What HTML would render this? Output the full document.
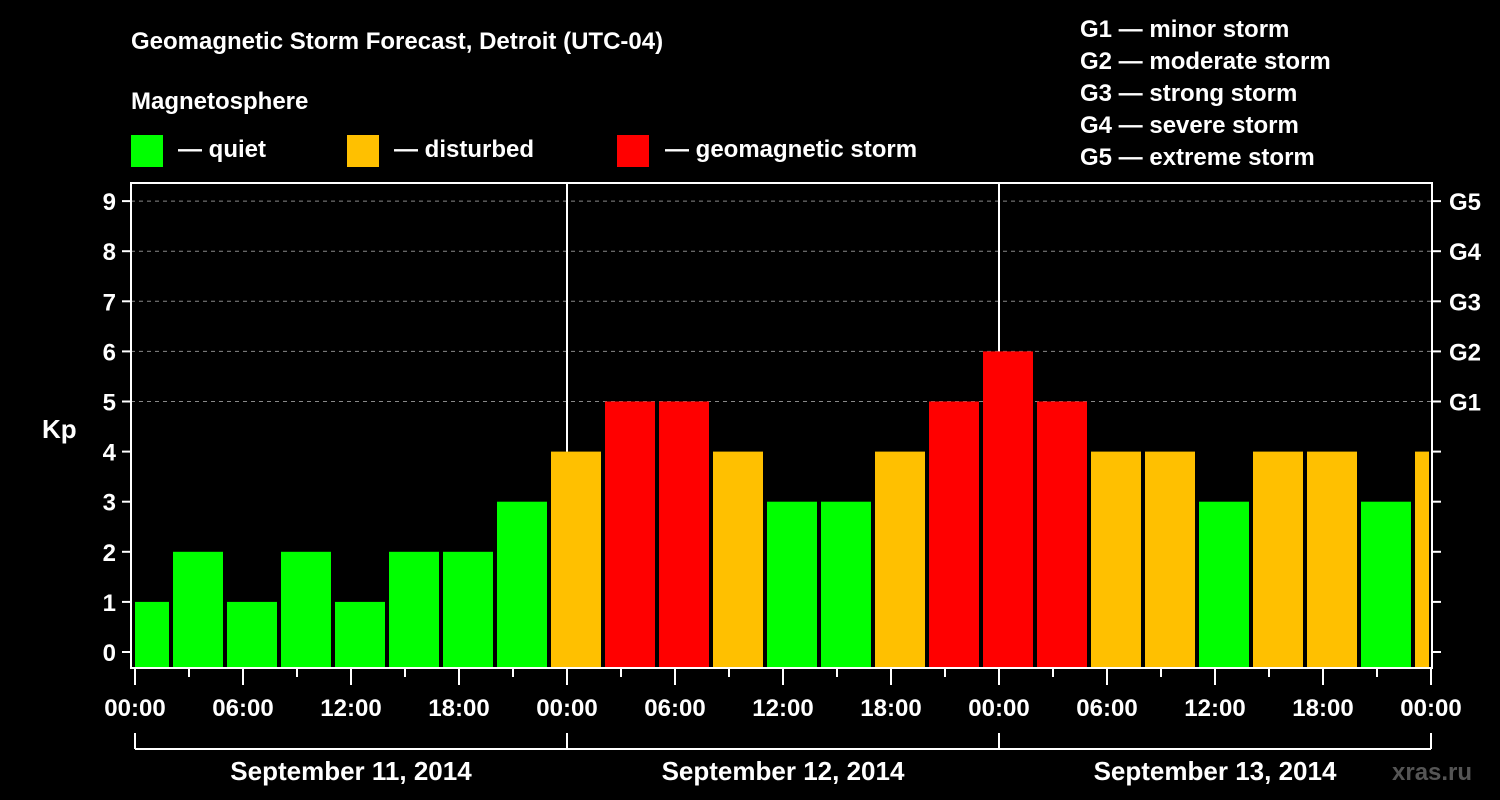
<!DOCTYPE html>
<html><head><meta charset="utf-8"><style>
body{margin:0;background:#000;}
svg{display:block;font-family:"Liberation Sans",Arial,sans-serif;font-weight:bold;}
</style></head><body>
<svg id="chart" width="1500" height="800" viewBox="0 0 1500 800">
<rect width="1500" height="800" fill="#000"/>
<text x="131" y="49" fill="#fff" font-size="24">Geomagnetic Storm Forecast, Detroit (UTC-04)</text>
<text x="131" y="109" fill="#fff" font-size="24">Magnetosphere</text>
<g><rect x="131" y="135" width="32" height="32" fill="#00ff00"/><text x="178" y="157" fill="#fff" font-size="24">— quiet</text></g>
<g><rect x="347" y="135" width="32" height="32" fill="#ffc000"/><text x="394" y="157" fill="#fff" font-size="24">— disturbed</text></g>
<g><rect x="617" y="135" width="32" height="32" fill="#ff0000"/><text x="665" y="157" fill="#fff" font-size="24">— geomagnetic storm</text></g>
<g fill="#fff" font-size="24">
<text x="1080" y="37">G1 — minor storm</text>
<text x="1080" y="69">G2 — moderate storm</text>
<text x="1080" y="101">G3 — strong storm</text>
<text x="1080" y="133">G4 — severe storm</text>
<text x="1080" y="165">G5 — extreme storm</text>
</g>
<text x="42" y="438" fill="#fff" font-size="26">Kp</text>
<text x="1392" y="780" fill="#555" font-size="24">xras.ru</text>
<g id="plot"></g>
</svg>
<script>
const kpValues=[1,2,1,2,1,2,2,3, 4,5,5,4,3,3,4,5, 6,5,4,4,3,4,4,3, 4];
const yTicks=[0,1,2,3,4,5,6,7,8,9];
const gLabels=["G1","G2","G3","G4","G5"];
const gLevels=[5,6,7,8,9];
const xTickLabels=["00:00","06:00","12:00","18:00","00:00","06:00","12:00","18:00","00:00","06:00","12:00","18:00","00:00"];
const dayLabels=["September 11, 2014","September 12, 2014","September 13, 2014"];
const binStartHour=-1;
const NS="http://www.w3.org/2000/svg";
const X0=135, PXH=18, L=131, R=1432, T=183, B=668;
const xs=h=>X0+h*PXH;
const ys=v=>652-50.1*v;
const g=document.getElementById('plot');
function mk(t,a,p){const e=document.createElementNS(NS,t);for(const k in a)e.setAttribute(k,a[k]);(p||g).appendChild(e);return e;}
// grid
gLevels.forEach(v=>{const e=mk('line',{x1:L,x2:R,y1:ys(v),y2:ys(v),stroke:'#888','stroke-width':1,'stroke-dasharray':'4 4'});

});
// day separators
[1,2].forEach(d=>{const e=mk('line',{x1:xs(24*d),x2:xs(24*d),y1:T,y2:B,stroke:'#fff','stroke-width':2});

});
// bars
kpValues.forEach((v,i)=>{let h0=binStartHour+3*i,h1=h0+3;
let x0=Math.max(xs(h0)+2,L+4),x1=Math.min(xs(h1)-2,R-3);
const c=v>=5?'#ff0000':(v>=4?'#ffc000':'#00ff00');
const e=mk('rect',{x:x0,y:ys(v),width:x1-x0,height:B-ys(v),fill:c});

});
// frame
const fr=mk('rect',{x:L,y:T,width:R-L,height:B-T,fill:'none',stroke:'#fff','stroke-width':2});


// y ticks
yTicks.forEach(v=>{const y=ys(v);
mk('line',{x1:L-9,x2:L,y1:y,y2:y,stroke:'#fff','stroke-width':2});
mk('line',{x1:R,x2:R+9,y1:y,y2:y,stroke:'#fff','stroke-width':2});
const t=mk('text',{x:L-15,y:y+9,fill:'#fff','font-size':24,'text-anchor':'end'});t.textContent=v;

});
gLevels.forEach((v,i)=>{const t=mk('text',{x:R+17,y:ys(v)+9,fill:'#fff','font-size':24});t.textContent=gLabels[i];

});
// x ticks
for(let h=0;h<=72;h+=3){const maj=h%6===0;mk('line',{x1:xs(h),x2:xs(h),y1:B,y2:B+(maj?17:9),stroke:'#fff','stroke-width':2});}
xTickLabels.forEach((s,i)=>{const t=mk('text',{x:xs(6*i),y:716,fill:'#fff','font-size':24,'text-anchor':'middle'});t.textContent=s;

});
// day bracket
mk('line',{x1:xs(0),x2:xs(72),y1:749,y2:749,stroke:'#fff','stroke-width':2});
[0,24,48,72].forEach(h=>mk('line',{x1:xs(h),x2:xs(h),y1:733,y2:749,stroke:'#fff','stroke-width':2}));
dayLabels.forEach((s,i)=>{const t=mk('text',{x:xs(24*i+12),y:780,fill:'#fff','font-size':26,'text-anchor':'middle'});t.textContent=s;

});
</script>
</body></html>
